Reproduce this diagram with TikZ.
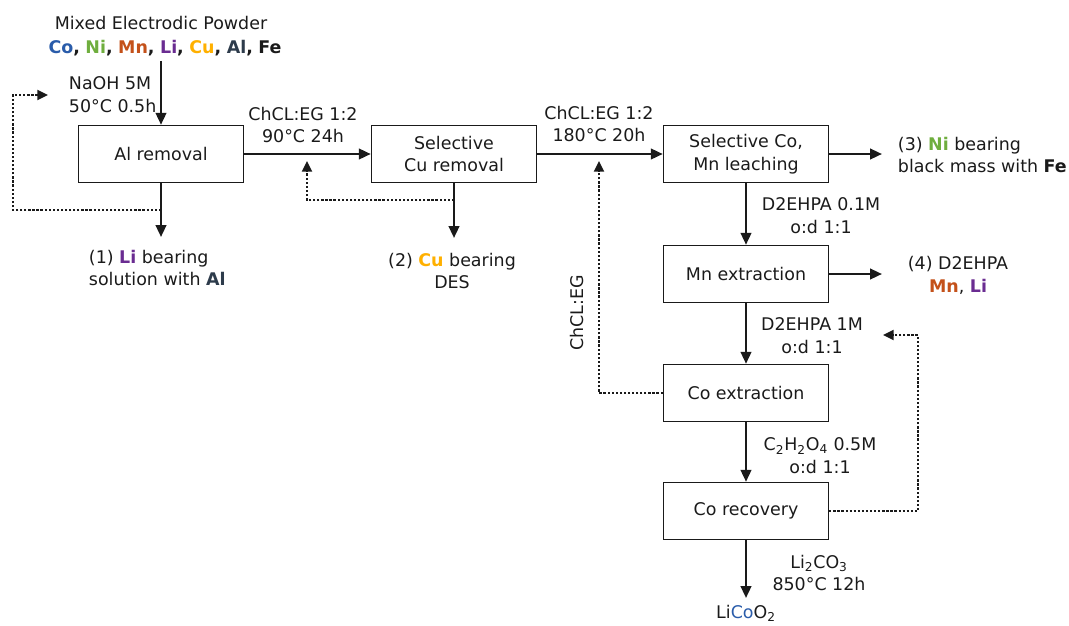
\documentclass[tikz,border=0pt]{standalone}
\usepackage{fontspec}
\setmainfont{DejaVu Sans}
\usepackage{xcolor}
\usetikzlibrary{arrows.meta}
\definecolor{el-co}{HTML}{2A5CAA}
\definecolor{el-ni}{HTML}{6FAE3E}
\definecolor{el-mn}{HTML}{C4511A}
\definecolor{el-li}{HTML}{6A2C91}
\definecolor{el-cu}{HTML}{FFB000}
\definecolor{el-al}{HTML}{2D3B4B}
\definecolor{jet}{HTML}{1A1A1A}
\newcommand{\elem}[2]{\textcolor{#1}{\textbf{#2}}}

\begin{document}
\begin{tikzpicture}[x=0.025cm, y=-0.025cm,
    every node/.style={font=\fontsize{12.4}{16.3}\selectfont, text=jet},
    stage/.style={draw=jet, line width=1pt, minimum width=4.125cm,
      minimum height=1.425cm, align=center, inner sep=1pt},
    flow/.style={-{Triangle[length=8.5pt, width=7.5pt]}, line width=1.7pt, color=jet},
    recycle/.style={-{Triangle[length=7.5pt, width=7pt]},
      dash pattern=on 1.6pt off 1.3pt, line width=1.6pt, color=jet}]
    \useasboundingbox (0,0) rectangle (1069,625);
    % feed
    \node (feed) at (161,23) {Mixed Electrodic Powder};
    \node (elems) at (165,48) {\elem{el-co}{Co}\textbf{,} \elem{el-ni}{Ni}\textbf{,}
      \elem{el-mn}{Mn}\textbf{,} \elem{el-li}{Li}\textbf{,} \elem{el-cu}{Cu}\textbf{,}
      \elem{el-al}{Al}\textbf{,} \textbf{Fe}};
    % process stages
    \node[stage] (alrem) at (161,154) {Al removal};
    \node[stage] (curem) at (454,154) {Selective\\Cu removal};
    \node[stage] (leach) at (746,154) {Selective Co,\\Mn leaching};
    \node[stage] (mnext) at (746,274) {Mn extraction};
    \node[stage] (coext) at (746,393) {Co extraction};
    \node[stage] (corec) at (746,511) {Co recovery};
    % conditions
    \node[align=left, anchor=west] (naoh) at (64,95) {NaOH 5M\\50°C 0.5h};
    \node[align=center] (cond1) at (303,125) {ChCL:EG 1:2\\90°C 24h};
    \node[align=center] (cond2) at (599,124) {ChCL:EG 1:2\\180°C 20h};
    \node[align=center] (cond3) at (821,216) {D2EHPA 0.1M\\o:d 1:1};
    \node[align=center] (cond4) at (812,336) {D2EHPA 1M\\o:d 1:1};
    \node[align=center] (cond5) at (820,456)
      {C\textsubscript{2}H\textsubscript{2}O\textsubscript{4} 0.5M\\o:d 1:1};
    \node[align=center] (cond6) at (819,573)
      {Li\textsubscript{2}CO\textsubscript{3}\\850°C 12h};
    \node[rotate=90] (chcl) at (577,313) {ChCL:EG};
    % outputs
    \node[align=left, anchor=west] (out1) at (84,268)
      {(1) \elem{el-li}{Li} bearing\\solution with \elem{el-al}{Al}};
    \node[align=center] (out2) at (452,271) {(2) \elem{el-cu}{Cu} bearing\\DES};
    \node[align=left, anchor=west] (out3) at (893,155)
      {(3) \elem{el-ni}{Ni} bearing\\black mass with \textbf{Fe}};
    \node[align=center] (out4) at (958,275) {(4) D2EHPA\\\elem{el-mn}{Mn}, \elem{el-li}{Li}};
    \node (prod) at (746,613) {Li\textcolor{el-co}{Co}O\textsubscript{2}};
    % main flow
    \draw[flow] (elems.south -| alrem) -- (alrem);
    \draw[flow] (alrem) -- (curem);
    \draw[flow] (curem) -- (leach);
    \draw[flow] (leach) -- (mnext);
    \draw[flow] (mnext) -- (coext);
    \draw[flow] (coext) -- (corec);
    \coordinate (out1-in) at (161,237);
    \coordinate (out2-in) at (454,238);
    \coordinate (out3-in) at (882,154);
    \coordinate (out4-in) at (882,274);
    \coordinate (prod-in) at (746,598);
    \draw[flow] (alrem) -- (out1-in);
    \draw[flow] (curem) -- (out2-in);
    \draw[flow] (leach) -- (out3-in);
    \draw[flow] (mnext) -- (out4-in);
    \draw[flow] (corec) -- (prod-in);
    % recycle loops
    \coordinate (naoh-in) at (48,95);
    \draw[recycle] (161,210) -- (13,210) -- (13,95) -- (naoh-in);
    \coordinate (cond1-in) at (307,161);
    \draw[recycle] (454,200) -- (307,200) -- (cond1-in);
    \coordinate (cond2-in) at (599,161);
    \draw[recycle] (coext.west) -| (cond2-in);
    \coordinate (cond4-in) at (883,335);
    \draw[recycle] (corec.east) -- (918,511) -- (918,335) -- (cond4-in);
  \end{tikzpicture}
\end{document}
